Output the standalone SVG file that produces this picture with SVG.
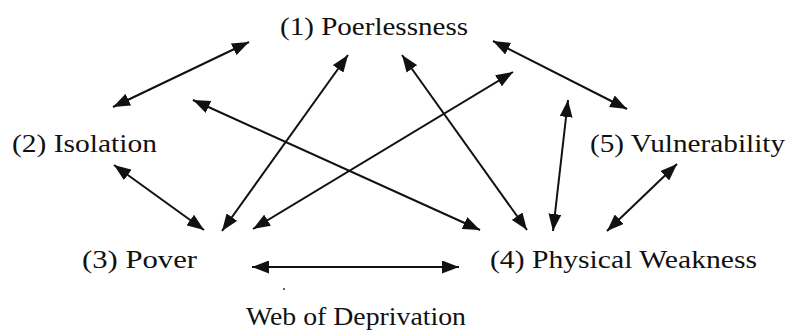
<svg xmlns="http://www.w3.org/2000/svg" width="789" height="331" viewBox="0 0 789 331">
  <style>
    .lbl { font-family: "Liberation Serif", "Times New Roman", serif; font-size: 25px; fill: #111; }
    .edge { stroke: #111; stroke-width: 2; fill: none; marker-start: url(#head); marker-end: url(#head); }
  </style>
  <defs>
    <marker id="head" viewBox="0 0 17 13" refX="17" refY="6.5" markerWidth="17" markerHeight="13" markerUnits="userSpaceOnUse" orient="auto-start-reverse">
      <path d="M0,0 L17,6.5 L0,13 Z" fill="#111"/>
    </marker>
  </defs>
  <rect width="789" height="331" fill="#fff"/>

  <g id="n1"><text class="lbl" x="280" y="35" textLength="188" lengthAdjust="spacingAndGlyphs">(1)  Poerlessness</text></g>
  <g id="n2"><text class="lbl" x="12" y="152" textLength="145" lengthAdjust="spacingAndGlyphs">(2)  Isolation</text></g>
  <g id="n5"><text class="lbl" x="590" y="152" textLength="195" lengthAdjust="spacingAndGlyphs">(5)  Vulnerability</text></g>
  <g id="n3"><text class="lbl" x="82" y="268" textLength="115" lengthAdjust="spacingAndGlyphs">(3)  Pover</text></g>
  <g id="n4"><text class="lbl" x="490" y="268" textLength="267" lengthAdjust="spacingAndGlyphs">(4)  Physical Weakness</text></g>
  <g id="caption"><text class="lbl" x="246" y="325" textLength="220" lengthAdjust="spacingAndGlyphs">Web of Deprivation</text></g>

  <g id="connectors">
    <line class="edge" x1="113" y1="107" x2="249" y2="42"/>
    <line class="edge" x1="193" y1="100" x2="480" y2="230"/>
    <line class="edge" x1="222" y1="231" x2="348" y2="55"/>
    <line class="edge" x1="253" y1="229" x2="513" y2="72"/>
    <line class="edge" x1="402" y1="55" x2="527" y2="230"/>
    <line class="edge" x1="568" y1="100" x2="553" y2="231"/>
    <line class="edge" x1="493" y1="41" x2="627" y2="109"/>
    <line class="edge" x1="114" y1="165" x2="204" y2="230"/>
    <line class="edge" x1="677" y1="164" x2="607" y2="231"/>
    <line class="edge" x1="252" y1="267" x2="459" y2="267"/>
  </g>
  <circle cx="284" cy="289" r="1" fill="#333"/>
</svg>
